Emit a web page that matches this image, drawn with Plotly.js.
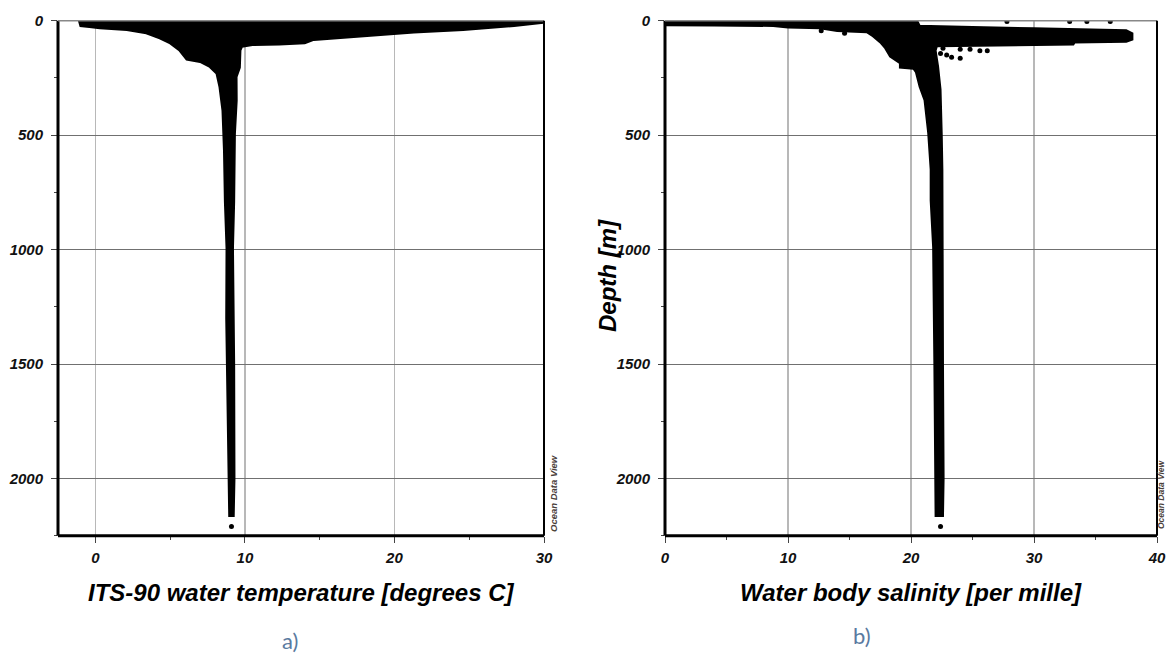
<!DOCTYPE html>
<html><head><meta charset="utf-8">
<script src="https://cdn.plot.ly/plotly-3.0.1.min.js"></script>
<style>html,body{margin:0;padding:0;background:#fff}#chart{width:1167px;height:665px}</style>
</head><body><div id="chart"></div>
<script>
// ---------- Panel a: outline of the temperature point cloud ----------
const tempOutlineDepth = [0, 24, 28, 33, 41, 55, 77, 99, 129, 170, 180, 202, 231, 290, 393, 569, 789, 994, 1300, 1700, 2000, 2164,
                          2164, 2000, 1500, 994, 790, 495, 349, 246, 205, 143, 129, 114, 106, 104, 99, 84, 67, 52, 41, 23, 9, 0];
const tempOutlineValue = [-1.1, -1.0, -0.4, 0.3, 2.1, 3.4, 4.3, 5.0, 5.6, 6.1, 7.0, 7.65, 8.1, 8.3, 8.5, 8.6, 8.66, 8.77, 8.75, 8.85, 8.9, 8.95,
                          9.25, 9.3, 9.28, 9.2, 9.28, 9.33, 9.45, 9.44, 9.66, 9.66, 9.7, 9.8, 10.5, 12.3, 14.0, 14.6, 17.9, 21.3, 24.6, 28.0, 29.9, 29.9];
const tempStrayDepth = [2210];
const tempStrayValue = [9.1];

// ---------- Panel b: outline of the salinity point cloud ----------
const salOutlineDepth = [0, 20, 21, 23, 30, 33, 45, 50, 68, 95, 120, 157, 185, 205, 210, 225, 288, 347, 491, 650, 785, 990, 1500, 2000, 2164,
                         2164, 2000, 1500, 990, 650, 500, 300, 200, 130, 112,
                         110, 108, 104, 95, 94, 92, 82,
                         55, 42, 38, 33, 28, 23, 22, 0];
const salOutlineValue = [0, 0, 4, 8.8, 10, 12.6, 14, 16.4, 16.9, 17.5, 17.9, 18.3, 19.1, 19.1, 20.2, 20.4, 20.7, 21.1, 21.4, 21.6, 21.6, 21.8, 21.9, 21.95, 22.0,
                         22.6, 22.65, 22.6, 22.6, 22.55, 22.5, 22.4, 22.2, 22.0, 22.1,
                         25, 28.6, 33.2, 33.3, 36, 37.5, 38.0,
                         38.0, 37.5, 35, 30, 25, 21.2, 20.7, 20.5];
const salStrayDepth = [120, 125, 125, 131, 131, 143, 150, 160, 164, 44, 55, 4, 4, 4, 4, 2210];
const salStrayValue = [22.6, 24.0, 24.8, 25.6, 26.2, 22.4, 22.9, 23.3, 24.0, 12.7, 14.6, 27.8, 32.9, 34.3, 36.2, 22.4];

// ---------- Ticks & texts ----------
const depthTicks = [0, 500, 1000, 1500, 2000];
const tempTicks = [0, 10, 20, 30];
const salTicks = [0, 10, 20, 30, 40];
const tempTitle = 'ITS-90 water temperature [degrees C]';
const salTitle = 'Water body salinity [per mille]';
const depthTitle = 'Depth [m]';
const panelLabels = ['a)', 'b)'];
const watermark = 'Ocean Data View';

const FONT = 'Liberation Sans, Arial, sans-serif';
const tickFont = {family: FONT, size: 15, color: '#111', weight: 700, style: 'italic'};
const titleFont = {family: FONT, size: 24, color: '#000', weight: 700, style: 'italic'};

const cloud = (x, y, xa, ya) => ({
  type: 'scatter', mode: 'lines', x: x, y: y, xaxis: xa, yaxis: ya,
  fill: 'toself', fillcolor: '#000', line: {color: '#000', width: 2, shape: 'linear'},
  hoverinfo: 'skip', showlegend: false
});
const dots = (x, y, xa, ya) => ({
  type: 'scatter', mode: 'markers', x: x, y: y, xaxis: xa, yaxis: ya,
  marker: {color: '#000', size: 5}, showlegend: false, hoverinfo: 'skip'
});

const data = [
  cloud(tempOutlineValue, tempOutlineDepth, 'x', 'y'),
  dots(tempStrayValue, tempStrayDepth, 'x', 'y'),
  cloud(salOutlineValue, salOutlineDepth, 'x2', 'y2'),
  dots(salStrayValue, salStrayDepth, 'x2', 'y2')
];

const yDom = [1 - 535.7 / 665, 1 - 20.7 / 665];
const xaxisBase = {
  ticks: 'outside', ticklen: 6, tickwidth: 1, tickcolor: '#444',
  showgrid: true, gridcolor: '#b8b8b8', gridwidth: 1.3, zeroline: false, showline: false,
  tickfont: tickFont, ticklabelstandoff: 2, fixedrange: true,
  minor: {dtick: 5, ticks: 'outside', ticklen: 3, tickcolor: '#444', showgrid: false}
};
const yaxisBase = {
  range: [2250, 0], domain: yDom, tickmode: 'array', tickvals: depthTicks,
  ticks: 'outside', ticklen: 6, tickwidth: 1, tickcolor: '#444',
  showgrid: true, gridcolor: '#707070', gridwidth: 1, zeroline: false, showline: false,
  tickfont: tickFont, ticklabelstandoff: 5, fixedrange: true,
  minor: {dtick: 250, ticks: 'outside', ticklen: 3, tickcolor: '#444', showgrid: false}
};

function border(xr, yr) {
  return [
    {type: 'line', xref: xr + ' domain', yref: yr + ' domain', x0: 0, x1: 0, y0: 0, y1: 1, line: {color: '#000', width: 3}},
    {type: 'line', xref: xr + ' domain', yref: yr + ' domain', x0: 0, x1: 1, y0: 0, y1: 0, line: {color: '#000', width: 3}},
    {type: 'line', xref: xr + ' domain', yref: yr + ' domain', x0: 0, x1: 1, y0: 1, y1: 1, line: {color: '#888', width: 1.5}},
    {type: 'line', xref: xr + ' domain', yref: yr + ' domain', x0: 1, x1: 1, y0: 0, y1: 1, line: {color: '#000', width: 2}}
  ];
}

const layout = {
  width: 1167, height: 665,
  margin: {l: 0, r: 0, t: 0, b: 0},
  paper_bgcolor: '#fff', plot_bgcolor: '#fff',
  showlegend: false,
  xaxis: Object.assign({}, xaxisBase, {domain: [58 / 1167, 544 / 1167], range: [-2.5, 30], tickmode: 'array', tickvals: tempTicks, anchor: 'y'}),
  yaxis: Object.assign({}, yaxisBase, {anchor: 'x'}),
  xaxis2: Object.assign({}, xaxisBase, {domain: [665 / 1167, 1157 / 1167], range: [0, 40], tickmode: 'array', tickvals: salTicks, anchor: 'y2'}),
  yaxis2: Object.assign({}, yaxisBase, {anchor: 'x2'}),
  shapes: border('x', 'y').concat(border('x2', 'y2')),
  annotations: [
    {text: tempTitle, xref: 'x domain', x: 0.5, yref: 'paper', y: 1 - 592 / 665, xanchor: 'center', yanchor: 'middle', showarrow: false, font: titleFont},
    {text: salTitle, xref: 'x2 domain', x: 0.5, yref: 'paper', y: 1 - 592 / 665, xanchor: 'center', yanchor: 'middle', showarrow: false, font: titleFont},
    {text: depthTitle, xref: 'paper', x: 607 / 1167, yref: 'paper', y: 1 - 276 / 665, xanchor: 'center', yanchor: 'middle', textangle: -90, showarrow: false, font: titleFont},
    {text: watermark, xref: 'paper', x: 553 / 1167, yref: 'paper', y: 1 - 494 / 665, xanchor: 'center', yanchor: 'middle', textangle: -90, showarrow: false,
     font: {family: FONT, size: 9.5, color: '#4a403a', style: 'italic', weight: 700}},
    {text: watermark, xref: 'paper', x: 1161 / 1167, yref: 'paper', y: 1 - 494 / 665, xanchor: 'center', yanchor: 'middle', textangle: -90, showarrow: false,
     font: {family: FONT, size: 8.5, color: '#4a403a', style: 'italic', weight: 700}},
    {text: panelLabels[0], xref: 'paper', x: 290 / 1167, yref: 'paper', y: 1 - 640 / 665, xanchor: 'center', yanchor: 'middle', showarrow: false,
     font: {family: 'Lato, Open Sans, sans-serif', size: 22, color: '#5a7aa0'}},
    {text: panelLabels[1], xref: 'paper', x: 862 / 1167, yref: 'paper', y: 1 - 635 / 665, xanchor: 'center', yanchor: 'middle', showarrow: false,
     font: {family: 'Lato, Open Sans, sans-serif', size: 22, color: '#5a7aa0'}}
  ]
};

Plotly.newPlot('chart', data, layout, {staticPlot: true, displayModeBar: false});
</script>
</body></html>
